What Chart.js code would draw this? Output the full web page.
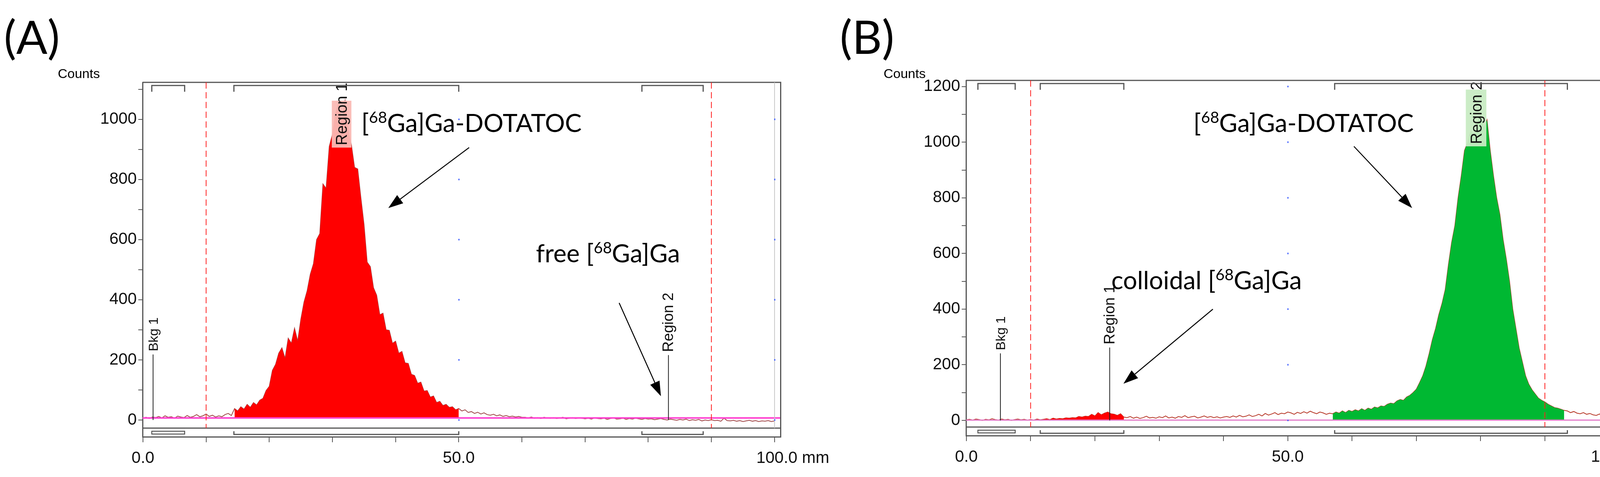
<!DOCTYPE html>
<html><head><meta charset="utf-8">
<script src="https://cdn.jsdelivr.net/npm/chart.js@4"></script>
<style>
html,body{margin:0;padding:0;background:#fff;width:4277px;height:1222px;overflow:hidden}
.p{position:absolute;top:0;height:1222px}
#wa{left:0;width:2140px}#wb{left:2140px;width:2137px}
</style></head><body>
<div class="p" id="wa"><canvas id="ca"></canvas></div>
<div class="p" id="wb"><canvas id="cb"></canvas></div>
<script>
// ---- data (counts sampled every 0.5 mm, 0 .. 100 mm) ----
const STEP_MM = 0.5;
const countsA = [
 6,9,5,10,8,12,7,14,9,11,6,13,10,8,15,9,12,18,11,14,
 20,12,16,10,14,11,18,22,15,
 38,30,44,36,52,42,58,50,66,72,98,112,
 165,185,222,240,205,272,255,305,262,335,
 392,430,485,520,600,620,785,770,910,950,
 1020,1055,1000,1062,960,915,840,835,740,650,
 525,510,440,415,350,355,300,298,255,262,
 222,228,190,188,152,148,122,126,96,98,
 76,80,58,62,48,52,42,44,34,38,
 30,34,25,28,22,26,20,24,18,16,19,14,17,12,15,11,13,10,12,9,
 9,7,10,6,8,5,9,7,6,8,5,7,9,4,6,8,5,7,6,4,
 6,3,7,5,4,6,2,5,7,3,4,6,2,5,3,6,4,2,5,3,
 4,1,3,5,2,0,3,1,-1,2,0,3,-2,1,-1,2,-3,0,-2,1,
 -2,-1,-4,6,-2,-3,-1,-4,-2,-5,-3,-1,-4,-2,-5,-3,-4,-2,-5,-3
];
const countsB = [
 2,4,1,5,3,0,4,2,6,3,1,5,2,4,0,3,5,2,4,1,
 3,1,5,2,4,6,3,8,5,7,6,9,8,10,9,14,12,15,14,22,16,28,20,26,30,24,22,18,24,12,10,
 14,8,12,7,10,15,9,11,8,13,10,16,9,12,8,14,11,17,10,13,15,9,12,16,11,14,10,13,9,12,
 14,11,16,12,18,13,15,20,14,17,22,16,25,19,23,28,21,26,24,30,27,22,29,25,31,26,33,28,24,30,27,22,26,
 24,30,26,34,28,36,32,38,34,
 42,36,44,40,48,45,52,50,58,62,
 60,70,75,72,84,90,100,112,135,160,
 195,240,290,330,380,420,470,560,640,700,
 800,880,970,1000,1040,1020,1070,1100,1050,1080,
 970,880,800,740,650,580,500,400,330,260,
 210,160,130,110,95,80,72,66,58,52,
 46,44,40,36,
 34,28,32,26,24,28,22,25,20,18,23,16,19,14
];
const regionsA = [{from:14.5, to:50, color:'#ff0000'}];
const regionsB = [{from:11, to:24.5, color:'#ff0000'}, {from:57, to:93, color:'#00b832'}];
const bkgLevelA = 7, bkgLevelB = 1;
const xTickLabels = {0:'0.0', 50:'50.0', 100:'        100.0 mm'};
const yLabelStep = 200;

function series(counts){ return counts.map((v,i)=>({x:i*STEP_MM, y:v})); }
function regionSeries(counts, r){ return series(counts).filter(p=>p.x>=r.from-1e-9 && p.x<=r.to+1e-9); }

function supWidth(ctx, parts, size){
  let w=0;
  for(const [t,sup] of parts){ ctx.font=(sup?Math.round(size*0.62):size)+'px Lato, "Open Sans", sans-serif'; w+=ctx.measureText(t).width; }
  return w;
}
function drawSup(ctx, parts, x, y, size, alignRight){
  let cx = alignRight ? x - supWidth(ctx, parts, size) : x;
  ctx.textAlign='left';
  for(const [t,sup] of parts){
    ctx.font = (sup? Math.round(size*0.62):size)+'px Lato, "Open Sans", sans-serif';
    ctx.fillText(t, cx, sup? y-size*0.36 : y);
    cx += ctx.measureText(t).width;
  }
}
function arrow(ctx, x1,y1,x2,y2){
  const ang=Math.atan2(y2-y1,x2-x1), L=38, W=13;
  ctx.strokeStyle='#000'; ctx.lineWidth=2.5;
  ctx.beginPath(); ctx.moveTo(x1,y1); ctx.lineTo(x2-Math.cos(ang)*L*0.8, y2-Math.sin(ang)*L*0.8); ctx.stroke();
  ctx.fillStyle='#000'; ctx.beginPath(); ctx.moveTo(x2,y2);
  ctx.lineTo(x2-Math.cos(ang)*L-Math.sin(ang)*W, y2-Math.sin(ang)*L+Math.cos(ang)*W);
  ctx.lineTo(x2-Math.cos(ang)*L+Math.sin(ang)*W, y2-Math.sin(ang)*L-Math.cos(ang)*W);
  ctx.closePath(); ctx.fill();
}

const deco = {
  id:'deco',
  afterDatasetsDraw(chart, args, o){
    const {ctx, chartArea:a, scales:{x,y}} = chart;
    ctx.save();
    ctx.strokeStyle=o.bkgColor; ctx.lineWidth=o.bkgWidth;
    ctx.beginPath(); ctx.moveTo(a.left, y.getPixelForValue(o.bkg)); ctx.lineTo(a.right, y.getPixelForValue(o.bkg)); ctx.stroke();
    for(const r of o.regionLabels){
      const x1=x.getPixelForValue(r.x1), x2=x.getPixelForValue(r.x2);
      const yt=y.getPixelForValue(r.top), yb=y.getPixelForValue(r.bottom);
      ctx.fillStyle=r.color; ctx.fillRect(x1, yt, x2-x1, yb-yt);
      ctx.save(); ctx.translate((x1+x2)/2+14, yb-6); ctx.rotate(-Math.PI/2);
      ctx.fillStyle='#111'; ctx.font='40px "Liberation Sans", Arial'; ctx.textAlign='left';
      ctx.fillText(r.text,0,0); ctx.restore();
    }
    ctx.strokeStyle='#555'; ctx.lineWidth=3;
    const sp=y.getPixelForValue(o.strip);
    ctx.beginPath(); ctx.moveTo(a.left,a.top); ctx.lineTo(a.right,a.top); ctx.lineTo(a.right,a.bottom); ctx.stroke();
    ctx.beginPath(); ctx.moveTo(a.left,sp); ctx.lineTo(a.right,sp); ctx.stroke();
    ctx.strokeStyle='#c8c8c8'; ctx.lineWidth=2;
    ctx.beginPath(); ctx.moveTo(x.getPixelForValue(100),a.top); ctx.lineTo(x.getPixelForValue(100),sp); ctx.stroke();
    ctx.fillStyle='#4060ff';
    for(const gx of [50,100]) for(let v=0; v<=o.ymaxLabel; v+=200) ctx.fillRect(x.getPixelForValue(gx)-1, y.getPixelForValue(v)-2, 3, 4);
    ctx.strokeStyle='#ff2020'; ctx.lineWidth=2; ctx.setLineDash([16,9]);
    for(const d of o.dashed){ const px=x.getPixelForValue(d); ctx.beginPath(); ctx.moveTo(px,a.top); ctx.lineTo(px,sp); ctx.stroke(); }
    ctx.setLineDash([]);
    ctx.strokeStyle='#555'; ctx.lineWidth=3;
    o.brackets.forEach((b,i)=>{
      const x1=x.getPixelForValue(b[0]), x2=x.getPixelForValue(b[1]);
      ctx.beginPath(); ctx.moveTo(x1,a.top+24); ctx.lineTo(x1,a.top+8); ctx.lineTo(x2,a.top+8); ctx.lineTo(x2,a.top+24); ctx.stroke();
      if(i===0){ ctx.lineWidth=2.5; ctx.strokeRect(x1, sp+8, x2-x1, a.bottom-sp-15); ctx.lineWidth=3; }
      else { ctx.beginPath(); ctx.moveTo(x1,sp+8); ctx.lineTo(x1,a.bottom-6); ctx.lineTo(x2,a.bottom-6); ctx.lineTo(x2,sp+8); ctx.stroke(); }
    });
    for(const m of o.markers){
      const px=x.getPixelForValue(m.x), top=y.getPixelForValue(m.h);
      ctx.strokeStyle='#222'; ctx.lineWidth=2;
      ctx.beginPath(); ctx.moveTo(px,y.getPixelForValue(0)); ctx.lineTo(px,top); ctx.stroke();
      ctx.save(); ctx.translate(px+12, top-8); ctx.rotate(-Math.PI/2);
      ctx.fillStyle='#111'; ctx.font=m.size+'px "Liberation Sans", Arial'; ctx.textAlign='left'; ctx.fillText(m.text,0,0); ctx.restore();
    }
    ctx.fillStyle='#000'; ctx.textBaseline='alphabetic';
    for(const t of o.texts) drawSup(ctx, t.parts, t.x, t.y, 64, t.right);
    for(const ar of o.arrows) arrow(ctx, ...ar);
    ctx.fillStyle='#000'; ctx.textAlign='left';
    ctx.font='118px Lato, "Open Sans", sans-serif'; ctx.fillText(o.letter, 10, 138);
    ctx.font='34px "Liberation Sans Narrow", "Liberation Sans", sans-serif'; ctx.fillText('Counts', o.countsX, 200);
    ctx.restore();
  }
};

function makeChart(id, counts, regions, lineColor, cfg){
  const ds = regions.map(r=>({data:regionSeries(counts,r), backgroundColor:r.color, borderWidth:0, pointRadius:0, fill:{value:cfg.bkg}, tension:0}));
  ds.push({data:series(counts), borderColor:lineColor, borderWidth:2, pointRadius:0, fill:false, tension:0});
  const tickFont={family:'"Liberation Sans Narrow", "Liberation Sans", sans-serif', size:42};
  return new Chart(document.getElementById(id), {
    type:'line',
    data:{datasets:ds},
    plugins:[deco],
    options:{
      responsive:true, maintainAspectRatio:false, animation:false, devicePixelRatio:1,
      layout:{padding:{top:cfg.top, right:cfg.right, left:0, bottom:0}},
      plugins:{legend:{display:false}, tooltip:{enabled:false}, deco:cfg},
      scales:{
        x:{type:'linear', min:cfg.xmin, max:cfg.xmax,
           afterFit:s=>{s.height=cfg.xh;},
           afterBuildTicks:s=>{s.ticks=[];for(let v=0;v<=100;v+=10)s.ticks.push({value:v});},
           border:{color:'#555', width:3},
           grid:{drawOnChartArea:false, tickLength:14, color:'#555', lineWidth:2},
           ticks:{maxRotation:0, autoSkip:false, padding:16, color:'#111', font:tickFont, callback:v=>xTickLabels[v]??''}},
        y:{min:cfg.ymin, max:cfg.ymax,
           afterFit:s=>{s.width=cfg.yw;},
           afterBuildTicks:s=>{s.ticks=[];for(let v=0;v<=cfg.ymaxLabel+100&&v<cfg.ymax;v+=100)s.ticks.push({value:v});},
           border:{color:'#555', width:3},
           grid:{drawOnChartArea:false, tickLength:11, color:'#555', lineWidth:2},
           ticks:{autoSkip:false, padding:4, color:'#111', font:tickFont, callback:v=>v%yLabelStep===0?String(v):''}}
      }
    }
  });
}

makeChart('ca', countsA, regionsA, '#a04848', {
  top:211, right:116, yw:365, xh:103, xmin:-0.06, xmax:100.97, ymin:-55.8, ymax:1123, ymaxLabel:1000,
  strip:-27, bkg:bkgLevelA, bkgColor:'#ff40d0', bkgWidth:4, dashed:[10,90],
  brackets:[[1.4,6.6],[14.4,50],[79,88.7]],
  markers:[{x:1.6,h:218,text:'Bkg 1',size:34},{x:83.2,h:216,text:'Region 2',size:38}],
  regionLabels:[{x1:29.9,x2:33,top:1062,bottom:906,color:'rgba(250,185,180,0.95)',text:'Region 1'}],
  texts:[{parts:[['[',0],['68',1],['Ga]Ga-DOTATOC',0]],x:925,y:338},
         {parts:[['free [',0],['68',1],['Ga]Ga',0]],x:1372,y:672}],
  arrows:[[1201,378,994,533],[1585,776,1692,1015]],
  letter:'(A)', countsX:148
});
makeChart('cb', countsB, regionsB, '#b83a2a', {
  top:206, right:134, yw:333, xh:106, xmin:-0.05, xmax:101.15, ymin:-54.7, ymax:1222, ymaxLabel:1200,
  strip:-24, bkg:bkgLevelB, bkgColor:'#e27ac8', bkgWidth:3, dashed:[10,90],
  brackets:[[1.8,7.6],[11.5,24.5],[57.3,93.5]],
  markers:[{x:5.3,h:241,text:'Bkg 1',size:34},{x:22.3,h:262,text:'Region 1',size:38}],
  regionLabels:[{x1:77.7,x2:80.9,top:1189,bottom:985,color:'rgba(200,235,195,0.95)',text:'Region 2'}],
  texts:[{parts:[['[',0],['68',1],['Ga]Ga-DOTATOC',0]],x:3619-2140,y:338,right:true},
         {parts:[['colloidal [',0],['68',1],['Ga]Ga',0]],x:2845-2140,y:741}],
  arrows:[[3466-2140,375,3615-2140,533],[3105-2140,792,2876-2140,983]],
  letter:'(B)', countsX:2262-2140
});
</script></body></html>
